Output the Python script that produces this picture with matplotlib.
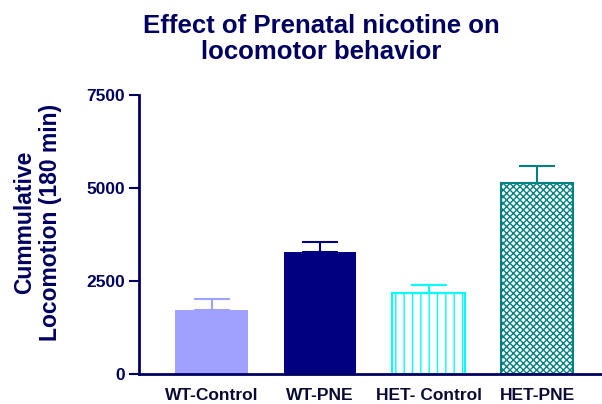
import numpy as np
import matplotlib.pyplot as plt

# data
groups = ['WT-Control', 'WT-PNE', 'HET- Control', 'HET-PNE']
means = [1720, 3280, 2190, 5140]
sems = [300, 270, 205, 450]

faces = ['#a0a0ff', '#000080', 'white', 'white']
edges = ['#a0a0ff', '#000080', '#00ffff', '#008080']
hatches = [None, None, '||', 'xxxxx']

navy = '#000060'
plt.rcParams['font.family'] = ['Liberation Sans', 'DejaVu Sans']
plt.rcParams['hatch.linewidth'] = 1.0

fig = plt.figure(figsize=(6.02, 4.04), dpi=100)
ax = fig.add_axes([0.231, 0.0743, 0.769, 0.6906])

x = np.arange(len(groups))
for i in range(len(groups)):
    if hatches[i]:
        plt.rcParams['hatch.color'] = edges[i]
    ax.bar(x[i], means[i], width=0.67, color=faces[i], edgecolor=edges[i],
           hatch=hatches[i], linewidth=1.5 if hatches[i] else 0, zorder=2)
    ax.errorbar(x[i], means[i], yerr=[[0], [sems[i]]], fmt='none',
                ecolor=edges[i], elinewidth=1.5, capsize=13, capthick=1.5, zorder=3)

ax.set_xlim(-0.67, 3.6)
ax.set_ylim(0, 7500)
ax.set_yticks([0, 2500, 5000, 7500])
ax.set_xticks(x)
ax.set_xticklabels(groups, fontsize=12.5, fontweight='bold', color='#0a0a35')
for lab in ax.get_yticklabels():
    lab.set_fontweight('bold')
ax.tick_params(axis='y', labelsize=12.5, labelcolor=navy, color=navy, width=1.5,
               length=7, pad=3)
ax.tick_params(axis='x', length=0, pad=10)

for s in ['top', 'right']:
    ax.spines[s].set_visible(False)
for s in ['left', 'bottom']:
    ax.spines[s].set_color(navy)
    ax.spines[s].set_linewidth(2)

fig.text(0.062, 0.45, 'Cummulative\nLocomotion (180 min)', rotation=90, ha='center',
         va='center', fontsize=16.5, fontweight='bold', color=navy, linespacing=1.15)
fig.text(0.534, 0.966, 'Effect of Prenatal nicotine on\nlocomotor behavior', ha='center',
         va='top', fontsize=18.5, fontweight='bold', color=navy, linespacing=1.13)

fig.savefig('out.png', dpi=100)
